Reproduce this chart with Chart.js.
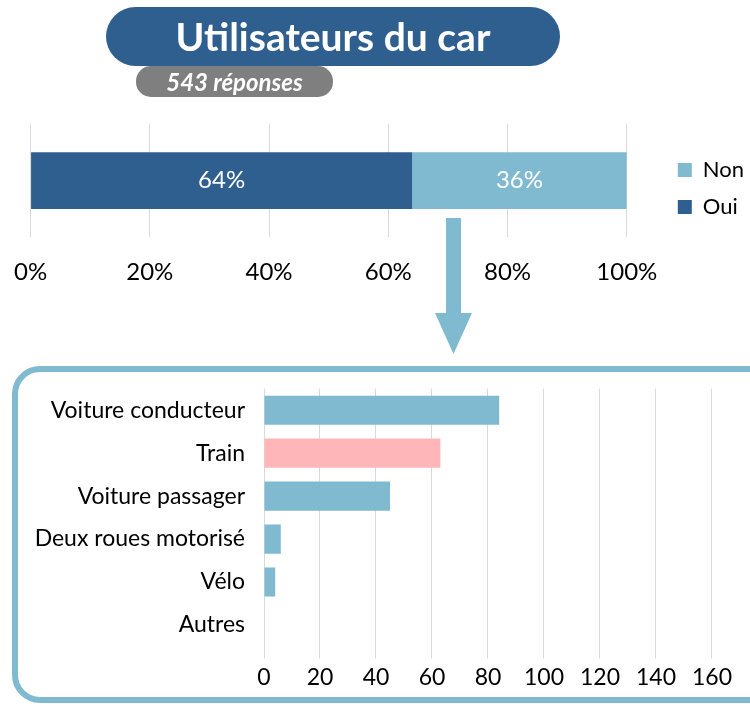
<!DOCTYPE html>
<html>
<head>
<meta charset="utf-8">
<script src="https://cdn.jsdelivr.net/npm/chart.js@4.4.0/dist/chart.umd.min.js"></script>
<style>
  html, body { margin: 0; padding: 0; background: #fff; }
  body { width: 750px; height: 704px; position: relative; overflow: hidden; font-family: Lato, 'Open Sans', sans-serif; }
  .titre { position: absolute; left: 106px; top: 7px; width: 454px; height: 59px; border-radius: 30px;
    background: #2E5F8F; color: #fff; font-weight: bold; font-size: 39px; line-height: 59px; text-align: center; z-index: 2; }
  .sous-titre { position: absolute; left: 136px; top: 66px; width: 197px; height: 31px; border-radius: 15px;
    background: #7F7F7F; color: #fff; font-weight: bold; font-style: italic; font-size: 24px; line-height: 31px; text-align: center; z-index: 1; }
  #wrapTop { position: absolute; left: -7px; top: 110px; width: 757px; height: 198px; }
  #fleche { position: absolute; left: 0; top: 0; }
  .cadre { position: absolute; left: 12px; top: 366px; width: 800px; height: 337px; box-sizing: border-box;
    border: 6px solid #7FBAD0; border-radius: 28px; }
  #wrapBas { position: absolute; left: 0; top: 364px; width: 793px; height: 332px; }
</style>
</head>
<body>
<div class="titre">Utilisateurs du car</div>
<div class="sous-titre">543 réponses</div>
<div id="wrapTop"><canvas id="chartCar"></canvas></div>
<svg id="fleche" width="750" height="704">
  <rect x="446" y="218" width="15" height="96" fill="#7FBAD0"/>
  <polygon points="435,313 472,313 453.5,354" fill="#7FBAD0"/>
</svg>
<div class="cadre"></div>
<div id="wrapBas"><canvas id="chartModes"></canvas></div>

<script>
// Utilisateurs du car
const reponsesLabels = ['Oui', 'Non'];
const reponsesValeurs = [64, 36];
const reponsesCouleurs = ['#2E5F8F', '#7FBAD0'];

// Modes de transport alternatifs
const modesLabels = ['Voiture conducteur', 'Train', 'Voiture passager', 'Deux roues motorisé', 'Vélo', 'Autres'];
const modesValeurs = [84, 63, 45, 6, 4, 0];
const modesCouleurs = ['#7FBAD0', '#FFB6B8', '#7FBAD0', '#7FBAD0', '#7FBAD0', '#7FBAD0'];

const police = "Lato, 'Open Sans', sans-serif";

// small label plugin (no datalabels lib available)
const etiquettesBarres = {
  id: 'etiquettesBarres',
  afterDatasetsDraw(chart) {
    const ctx = chart.ctx;
    ctx.save();
    ctx.fillStyle = '#fff';
    ctx.font = '24px ' + police;
    ctx.textAlign = 'center';
    ctx.textBaseline = 'middle';
    chart.data.datasets.forEach((ds, i) => {
      chart.getDatasetMeta(i).data.forEach((bar, j) => {
        const p = bar.getProps(['x', 'base', 'y'], true);
        ctx.fillText(ds.data[j] + '%', (p.x + p.base) / 2, p.y);
      });
    });
    ctx.restore();
  }
};

// push the legend a bit away from the bars
const decalageLegende = {
  id: 'decalageLegende',
  afterLayout(chart) {
    const lg = chart.legend;
    lg.left += 36; lg.right += 36;
    lg.top += 8; lg.bottom += 8;
  }
};

new Chart(document.getElementById('chartCar'), {
  type: 'bar',
  data: {
    labels: [''],
    datasets: reponsesLabels.map((l, i) => ({
      label: l,
      data: [reponsesValeurs[i]],
      backgroundColor: reponsesCouleurs[i],
      barPercentage: 0.5,
      categoryPercentage: 1
    }))
  },
  options: {
    indexAxis: 'y',
    responsive: true,
    maintainAspectRatio: false,
    animation: false,
    layout: { padding: { left: 0, top: 14, right: 32 } },
    scales: {
      x: {
        stacked: true,
        min: 0,
        max: 100,
        ticks: { stepSize: 20, callback: v => v + '%', color: '#000', font: { family: police, size: 24 }, padding: 21 },
        grid: { color: '#D9D9D9', drawTicks: false },
        border: { display: false }
      },
      y: {
        stacked: true,
        afterFit: s => { s.width = 30; },
        ticks: { display: false },
        grid: { display: false },
        border: { display: false }
      }
    },
    plugins: {
      legend: {
        position: 'right',
        fullSize: false,
        reverse: true,
        labels: { boxWidth: 14, boxHeight: 14, padding: 15, color: '#000', font: { family: police, size: 22 } }
      },
      tooltip: { enabled: false }
    }
  },
  plugins: [etiquettesBarres, decalageLegende]
});

new Chart(document.getElementById('chartModes'), {
  type: 'bar',
  data: {
    labels: modesLabels,
    datasets: [{
      data: modesValeurs,
      backgroundColor: modesCouleurs,
      barPercentage: 0.68,
      categoryPercentage: 1
    }]
  },
  options: {
    indexAxis: 'y',
    responsive: true,
    maintainAspectRatio: false,
    animation: false,
    layout: { padding: 0 },
    scales: {
      x: {
        min: 0,
        max: 180,
        ticks: { stepSize: 20, color: '#000', font: { family: police, size: 23 }, padding: 5 },
        grid: { color: '#D9D9D9', tickLength: 12, tickColor: '#D9D9D9' },
        border: { display: false }
      },
      y: {
        afterFit: s => { s.width = 264; },
        ticks: { color: '#000', font: { family: police, size: 23 }, padding: 11 },
        grid: { display: false },
        border: { display: false }
      }
    },
    plugins: {
      legend: { display: false },
      tooltip: { enabled: false }
    }
  }
});
</script>
</body>
</html>
